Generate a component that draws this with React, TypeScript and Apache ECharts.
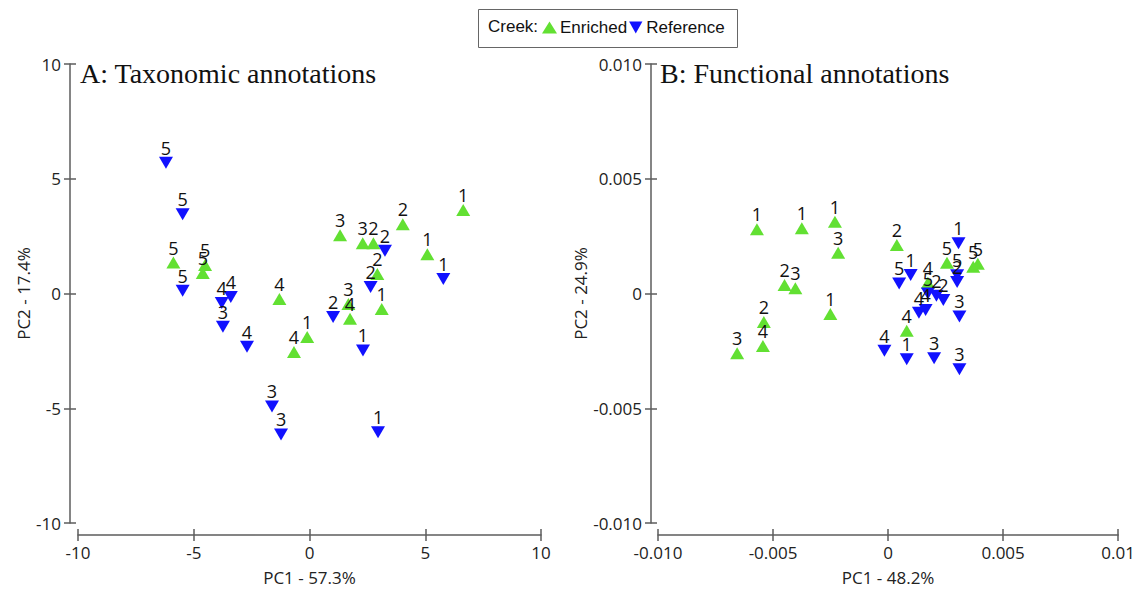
import React, { useEffect, useRef } from "react";
import * as echarts from "echarts";

// ---------- Data ----------
// Panel A: Taxonomic annotations
const taxEnrichedX = [-5.88, -4.51, -4.61, -1.3, -0.67, -0.1, 1.68, 1.75, 3.12, 1.32, 2.3, 2.76, 2.93, 4.03, 5.09, 6.64];
const taxEnrichedY = [1.35, 1.24, 0.89, -0.24, -2.55, -1.9, -0.46, -1.1, -0.67, 2.54, 2.19, 2.19, 0.85, 3.02, 1.71, 3.64];
const taxEnrichedLabels = ["5", "5", "5", "4", "4", "1", "3", "4", "1", "3", "3", "2", "2", "2", "1", "1"];

const taxReferenceX = [-6.2, -5.48, -5.48, -3.4, -3.79, -3.74, -2.7, -1.62, -1.23, 2.96, 2.31, 1.02, 2.64, 3.26, 5.78];
const taxReferenceY = [5.7, 3.45, 0.12, -0.15, -0.41, -1.45, -2.32, -4.92, -6.14, -6.05, -2.48, -1.02, 0.28, 1.86, 0.63];
const taxReferenceLabels = ["5", "5", "5", "4", "4", "3", "4", "3", "3", "1", "1", "2", "2", "2", "1"];

// Panel B: Functional annotations
const funcEnrichedX = [-0.0057, -0.00375, -0.00231, -0.00217, -0.0045, -0.00403, -0.0054, -0.00544, -0.00656, -0.00251, 0.00038, 0.00256, 0.0037, 0.0039, 0.00173, 0.00081];
const funcEnrichedY = [0.0028, 0.00284, 0.00313, 0.00178, 0.00037, 0.00023, -0.00124, -0.00229, -0.0026, -0.00089, 0.00211, 0.00134, 0.00117, 0.0013, 0.00047, -0.00162];
const funcEnrichedLabels = ["1", "1", "1", "3", "2", "3", "2", "4", "3", "1", "2", "5", "5", "5", "4", "4"];

const funcReferenceX = [0.00306, 0.003, 0.003, 0.00048, 0.00098, 0.00173, 0.0021, 0.0024, 0.00163, 0.00134, 0.0031, -0.00016, 0.00081, 0.002, 0.0031];
const funcReferenceY = [0.00219, 0.0008, 0.0005, 0.00044, 0.00081, 0.0, -0.0001, -0.00028, -0.00072, -0.00084, -0.001, -0.00249, -0.00287, -0.00282, -0.0033];
const funcReferenceLabels = ["1", "5", "2", "5", "1", "5", "2", "2", "4", "4", "3", "4", "1", "3", "3"];

// Tick labels
const taxXTicks = ["-10", "-5", "0", "5", "10"];
const taxYTicks = ["-10", "-5", "0", "5", "10"];
const funcXTicks = ["-0.010", "-0.005", "0", "0.005", "0.01"];
const funcYTicks = ["-0.010", "-0.005", "0", "0.005", "0.010"];

const groupNames = ["Enriched", "Reference"];
const panelTitles = ["A: Taxonomic annotations", "B: Functional annotations"];
const axisNames = { taxX: "PC1 - 57.3%", taxY: "PC2 - 17.4%", funcX: "PC1 - 48.2%", funcY: "PC2 - 24.9%" };

// ---------- Styles ----------
const GREEN = "#62e032";
const BLUE = "#1111ff";
const AXIS = "#5c5c5c";
const SANS = "'Open Sans', sans-serif";
const DOWN = "path://M0,0 L10,0 L5,9 Z";

const zip = (xs: number[], ys: number[], ls: string[]) => xs.map((x, i) => [x, ys[i], ls[i]]);

function tickFmt(labels: string[], min: number, interval: number) {
  return (v: number) => {
    const i = Math.round((v - min) / interval);
    return labels[i] ?? "";
  };
}

const tickStyle = { color: AXIS, width: 1.5 };
const tickText = { fontSize: 17, fontFamily: SANS, color: "#222" };

function mainX(gridIndex: number, min: number, max: number, interval: number, labels: string[], name: string) {
  return {
    type: "value", gridIndex, position: "bottom", min, max, interval, offset: 12,
    axisLine: { show: true, onZero: false, lineStyle: { color: AXIS, width: 1.5 } },
    axisTick: { show: true, inside: false, length: 6, lineStyle: tickStyle },
    axisLabel: { formatter: tickFmt(labels, min, interval), ...tickText, margin: 9 },
    splitLine: { show: false },
    name, nameLocation: "middle", nameGap: 34,
    nameTextStyle: tickText,
  };
}
function dupX(gridIndex: number, min: number, max: number, interval: number) {
  return {
    type: "value", gridIndex, position: "bottom", min, max, interval, offset: 12,
    axisLine: { show: false, onZero: false },
    axisTick: { show: true, inside: true, length: 6, lineStyle: tickStyle },
    axisLabel: { show: false }, splitLine: { show: false },
  };
}
function mainY(gridIndex: number, min: number, max: number, interval: number, labels: string[], name: string, offset: number, nameGap: number) {
  return {
    type: "value", gridIndex, position: "left", min, max, interval, offset,
    axisLine: { show: true, onZero: false, lineStyle: { color: AXIS, width: 1.5 } },
    axisTick: { show: true, inside: false, length: 6, lineStyle: tickStyle },
    axisLabel: { formatter: tickFmt(labels, min, interval), ...tickText, margin: 9 },
    splitLine: { show: false },
    name, nameLocation: "middle", nameGap,
    nameTextStyle: tickText,
  };
}
function dupY(gridIndex: number, min: number, max: number, interval: number, offset: number) {
  return {
    type: "value", gridIndex, position: "left", min, max, interval, offset,
    axisLine: { show: false, onZero: false },
    axisTick: { show: true, inside: true, length: 6, lineStyle: tickStyle },
    axisLabel: { show: false }, splitLine: { show: false },
  };
}

const pointLabel = {
  show: true, position: "top", distance: 0,
  formatter: (p: any) => p.value[2],
  fontSize: 18, fontFamily: SANS, color: "#111",
};

function scatter(name: string, data: any[], xi: number, yi: number, down: boolean) {
  return {
    type: "scatter", name, data, xAxisIndex: xi, yAxisIndex: yi,
    symbol: "triangle", symbolRotate: down ? 180 : 0, symbolSize: [14, 12],
    itemStyle: { color: down ? BLUE : GREEN, opacity: 1 },
    label: pointLabel,
  };
}

export default function App() {
  const ref = useRef<HTMLDivElement>(null);
  useEffect(() => {
    if (!ref.current) return;
    const chart = echarts.init(ref.current, null, { renderer: "svg" });
    const option: any = {
      animation: false,
      backgroundColor: "#fff",
      title: [
        { text: panelTitles[0], left: 80, top: 59, padding: 0, textStyle: { fontFamily: "'Liberation Serif', serif", fontSize: 28, fontWeight: "normal", color: "#111" } },
        { text: panelTitles[1], left: 660, top: 59, padding: 0, textStyle: { fontFamily: "'Liberation Serif', serif", fontSize: 28, fontWeight: "normal", color: "#111" } },
      ],
      graphic: [
        { type: "rect", left: 478, top: 9, shape: { width: 259, height: 38 }, style: { fill: "#fff", stroke: "#666", lineWidth: 1 }, z: 0 },
        { type: "text", left: 488, top: 18, style: { text: "Creek:", fontSize: 17, fontFamily: "'Liberation Sans', Arial, sans-serif", fill: "#111" }, z: 1 },
      ],
      legend: {
        left: 542, top: 19, itemGap: 2, itemWidth: 15, itemHeight: 12, padding: 0,
        textStyle: { fontSize: 17, fontFamily: "'Liberation Sans', Arial, sans-serif", color: "#111", padding: [0, 0, 0, -2] },
        data: [
          { name: groupNames[0], icon: "triangle", itemStyle: { color: GREEN } },
          { name: groupNames[1], icon: DOWN, itemStyle: { color: BLUE } },
        ],
        z: 3,
      },
      grid: [
        { left: 78, right: 597, top: 64, bottom: 67 },
        { left: 658, right: 15, top: 64, bottom: 67 },
      ],
      xAxis: [
        mainX(0, -10, 10, 5, taxXTicks, axisNames.taxX),
        dupX(0, -10, 10, 5),
        mainX(1, -0.01, 0.01, 0.005, funcXTicks, axisNames.funcX),
        dupX(1, -0.01, 0.01, 0.005),
      ],
      yAxis: [
        mainY(0, -10, 10, 5, taxYTicks, axisNames.taxY, 8, 38),
        dupY(0, -10, 10, 5, 8),
        mainY(1, -0.01, 0.01, 0.005, funcYTicks, axisNames.funcY, 7, 58),
        dupY(1, -0.01, 0.01, 0.005, 7),
      ],
      series: [
        scatter(groupNames[0], zip(taxEnrichedX, taxEnrichedY, taxEnrichedLabels), 0, 0, false),
        scatter(groupNames[1], zip(taxReferenceX, taxReferenceY, taxReferenceLabels), 0, 0, true),
        scatter(groupNames[0], zip(funcEnrichedX, funcEnrichedY, funcEnrichedLabels), 2, 2, false),
        scatter(groupNames[1], zip(funcReferenceX, funcReferenceY, funcReferenceLabels), 2, 2, true),
      ],
    };
    chart.setOption(option);
    return () => chart.dispose();
  }, []);
  return <div ref={ref} style={{ position: "fixed", left: 0, top: 0, width: 1138, height: 591 }} />;
}
